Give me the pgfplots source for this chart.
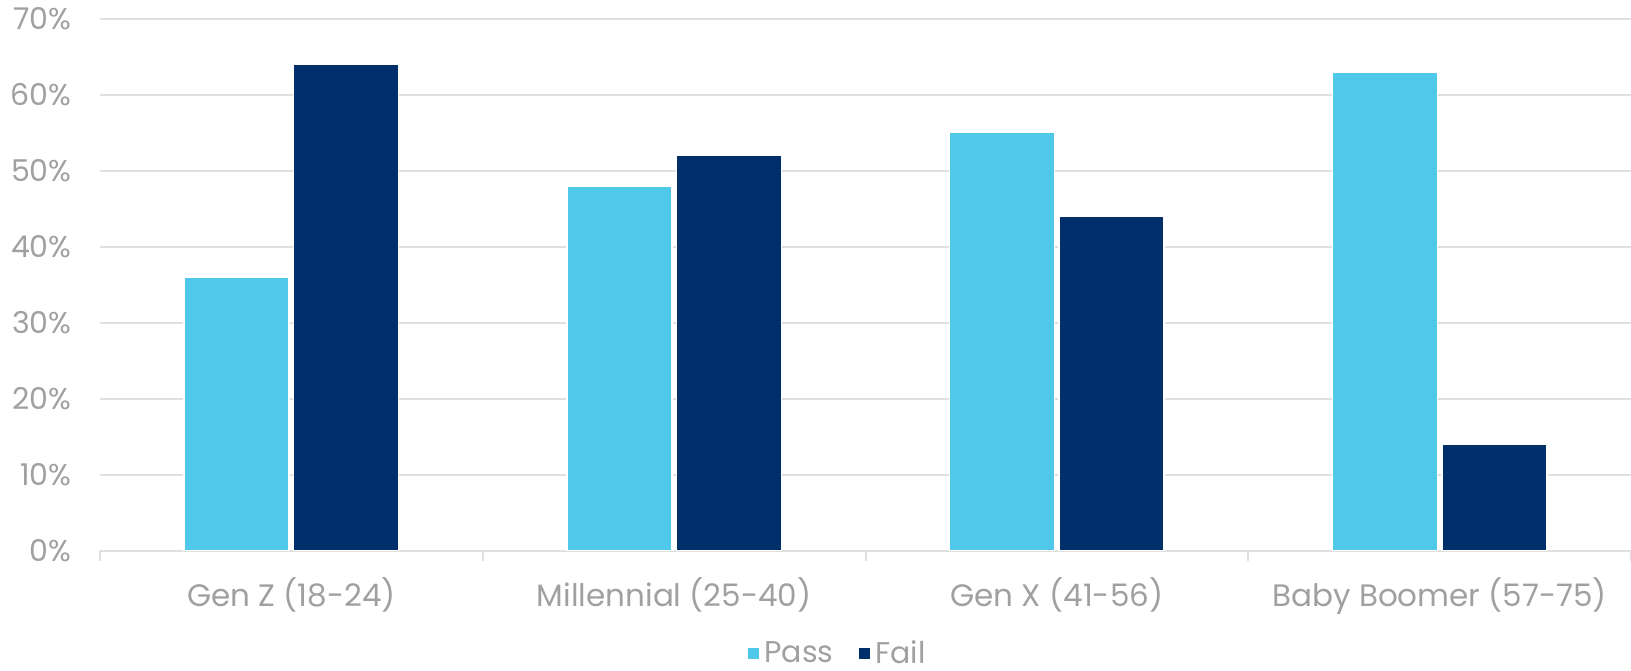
\documentclass[border=0pt]{standalone}
\usepackage{pgfplots}
\pgfplotsset{compat=1.18}
\usepackage{fontspec}
\setmainfont{Poppins}
\usetikzlibrary{calc}
\definecolor{passc}{RGB}{79,200,234}
\definecolor{failc}{RGB}{0,47,108}
\definecolor{txtc}{RGB}{160,160,160}
\definecolor{gridc}{RGB}{224,224,224}
\begin{document}
\begin{tikzpicture}
\begin{axis}[
  scale only axis,
  width=765.5pt, height=266pt,
  ymin=0, ymax=70, ytick={0,10,...,70},
  xmin=-0.5, xmax=3.5,
  xtick={0,1,2,3},
  xticklabels={Gen Z (18-24), Millennial (25-40), Gen X (41-56), Baby Boomer (57-75)},
  minor xtick={-0.5,0.5,1.5,2.5,3.5},
  major tick length=0pt,
  minor tick length=5pt,
  tick align=outside,
  xtick pos=lower,
  ytick pos=left,
  axis line style={draw=none},
  axis x line*=bottom,
  x axis line style={draw=gridc, line width=1pt},
  minor tick style={draw=gridc, line width=1pt},
  ymajorgrids,
  grid style={draw=gridc, line width=1pt},
  yticklabel={\pgfmathparse{int(\tick)}\pgfmathresult\%},
  yticklabel style={font=\fontsize{15}{17}\selectfont, text=txtc, anchor=east, inner sep=0pt, xshift=-14pt},
  xticklabel style={font=\fontsize{15.5}{17}\selectfont, text=txtc, anchor=north, inner sep=0pt, yshift=-13pt},
  ybar,
  bar width=52.5pt,
  legend style={at={(0.482,-0.193)}, anchor=center, draw=none, legend columns=-1,
    font=\fontsize{15}{17}\selectfont, text=txtc,
    /tikz/every even column/.append style={column sep=10pt}},
  legend image code/.code={\fill[#1] (0pt,-3.1pt) rectangle (6.2pt,3.1pt);},
]
\addplot[fill=passc, draw=white, line width=0.8pt, bar shift=-27.4pt] coordinates {(0,36) (1,48) (2,55) (3,63)};
\addplot[fill=failc, draw=white, line width=0.8pt, bar shift=27.4pt] coordinates {(0,64) (1,52) (2,44) (3,14)};
\legend{Pass, Fail}
\end{axis}
\pgfresetboundingbox
\path ($(current axis.south west)+(-50pt,-60pt)$) rectangle ($(current axis.north east)+(0pt,9.35pt)$);
\end{tikzpicture}
\end{document}
